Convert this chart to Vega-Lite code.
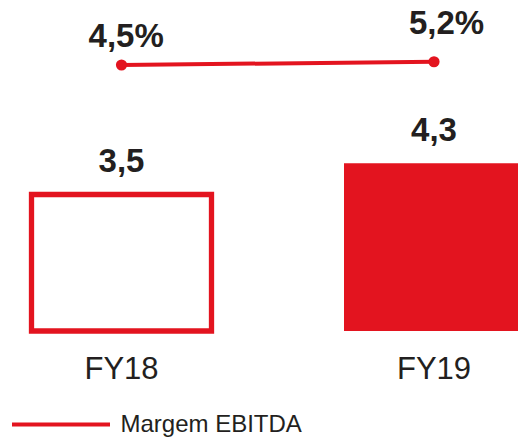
{
  "$schema": "https://vega.github.io/schema/vega-lite/v6.json",
  "width": 518,
  "height": 331,
  "autosize": {"type": "none"},
  "padding": {"left": 0, "top": 0, "right": 0, "bottom": 107},
  "background": "white",
  "config": {"view": {"stroke": null}, "font": "Liberation Sans"},
  "data": {"values": [
    {"year": "FY18", "ebitda": 3.5, "ebitdaLabel": "3,5", "margin": 4.5, "marginLabel": "4,5%"},
    {"year": "FY19", "ebitda": 4.3, "ebitdaLabel": "4,3", "margin": 5.2, "marginLabel": "5,2%"}
  ]},
  "encoding": {
    "x": {
      "field": "year", "type": "nominal",
      "scale": {"range": [0, 555.5], "paddingInner": 0.424, "paddingOuter": 0.1008},
      "axis": {"title": null, "domain": false, "ticks": false, "labelAngle": 0, "labelFontSize": 31, "labelColor": "#231f20", "labelFont": "Liberation Sans", "labelBaseline": "alphabetic", "labelPadding": 47.5}
    }
  },
  "layer": [
    {
      "encoding": {"y": {"field": "ebitda", "type": "quantitative", "scale": {"domain": [0, 8.487], "nice": false}, "axis": null}},
      "layer": [
        {
          "mark": {"type": "bar", "stroke": "#e3141f"},
          "encoding": {
            "fill": {"condition": {"test": "datum.year === 'FY18'", "value": "#ffffff"}, "value": "#e3141f"},
            "strokeWidth": {"condition": {"test": "datum.year === 'FY18'", "value": 5.3}, "value": 0}
          }
        },
        {
          "mark": {"type": "text", "fontSize": 33, "fontWeight": "bold", "color": "#231f20", "baseline": "alphabetic", "dy": -22.5},
          "encoding": {"text": {"field": "ebitdaLabel"}}
        }
      ]
    },
    {
      "encoding": {"y": {"field": "margin", "type": "quantitative", "scale": {"domain": [-51.9, 18.29], "nice": false, "zero": false}, "axis": null}},
      "layer": [
        {
          "mark": {"type": "line", "strokeWidth": 4},
          "encoding": {
            "color": {
              "datum": "Margem EBITDA", "type": "nominal",
              "scale": {"range": ["#e3141f"]},
              "legend": {"orient": "none", "legendX": 10, "legendY": 373.5, "title": null, "symbolType": "stroke", "symbolSize": 9604, "symbolStrokeWidth": 4, "labelFontSize": 24, "labelColor": "#231f20", "labelOffset": 8.5, "labelLimit": 0, "padding": 0, "labelFont": "Liberation Sans"}
            }
          }
        },
        {
          "mark": {"type": "point", "filled": true, "size": 125, "color": "#e3141f", "opacity": 1}
        },
        {
          "transform": [{"filter": "datum.year === 'FY18'"}],
          "mark": {"type": "text", "fontSize": 33, "fontWeight": "bold", "color": "#231f20", "baseline": "alphabetic", "dx": 4.7, "dy": -18},
          "encoding": {"text": {"field": "marginLabel"}}
        },
        {
          "transform": [{"filter": "datum.year === 'FY19'"}],
          "mark": {"type": "text", "fontSize": 33, "fontWeight": "bold", "color": "#231f20", "baseline": "alphabetic", "dx": 12.5, "dy": -27.4},
          "encoding": {"text": {"field": "marginLabel"}}
        }
      ]
    }
  ],
  "resolve": {"scale": {"y": "independent"}}
}
